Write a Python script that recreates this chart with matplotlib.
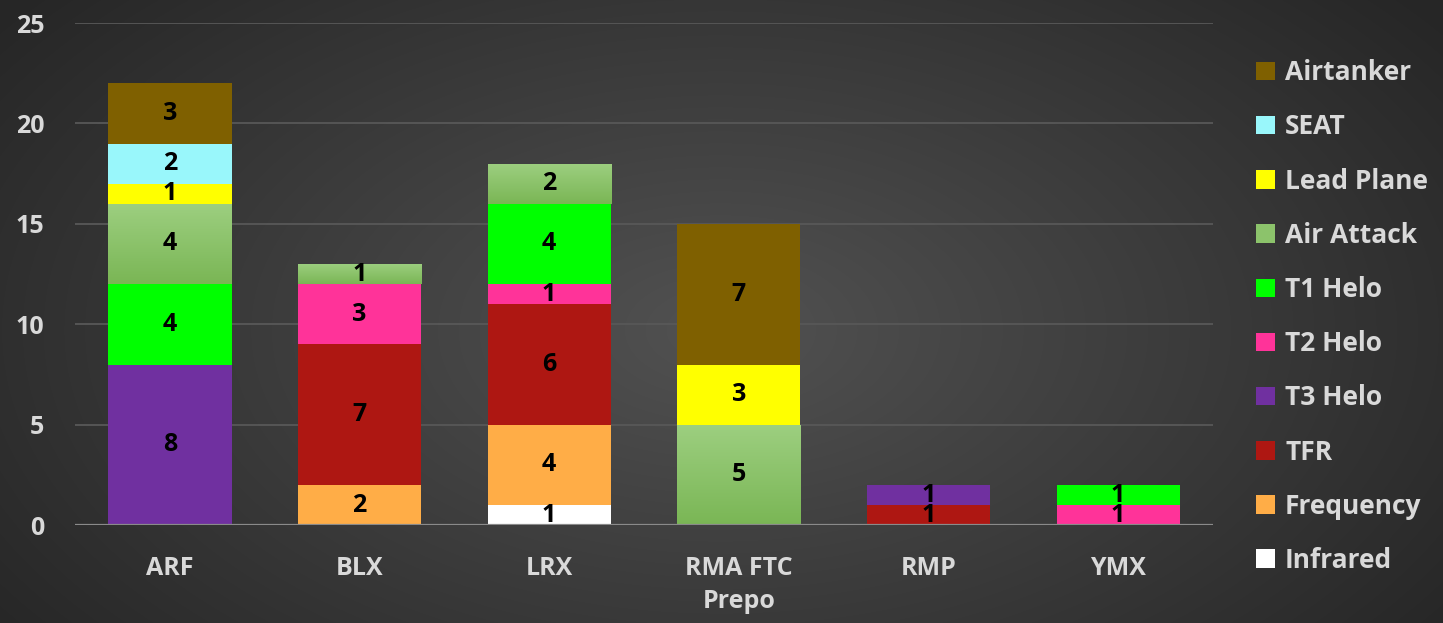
import numpy as np
import matplotlib
matplotlib.use("Agg")
import matplotlib.pyplot as plt
from matplotlib.patches import Patch

categories = ["ARF", "BLX", "LRX", "RMA FTC\nPrepo", "RMP", "YMX"]

# stacked bottom -> top
infrared = [0, 0, 1, 0, 0, 0]
frequency = [0, 2, 4, 0, 0, 0]
tfr = [0, 7, 6, 0, 1, 0]
t3_helo = [8, 0, 0, 0, 1, 0]
t2_helo = [0, 3, 1, 0, 0, 1]
t1_helo = [4, 0, 4, 0, 0, 1]
air_attack = [4, 1, 2, 5, 0, 0]
lead_plane = [1, 0, 0, 3, 0, 0]
seat = [2, 0, 0, 0, 0, 0]
airtanker = [3, 0, 0, 7, 0, 0]

series = [
    ("Infrared", infrared, "#ffffff"),
    ("Frequency", frequency, "#ffad47"),
    ("TFR", tfr, "#ae1712"),
    ("T3 Helo", t3_helo, "#7030a0"),
    ("T2 Helo", t2_helo, "#ff3399"),
    ("T1 Helo", t1_helo, "#00ff00"),
    ("Air Attack", air_attack, "#8cc36b"),
    ("Lead Plane", lead_plane, "#ffff00"),
    ("SEAT", seat, "#99f7fb"),
    ("Airtanker", airtanker, "#7f6000"),
]

plt.rcParams["font.family"] = ["Open Sans", "DejaVu Sans"]
plt.rcParams["font.weight"] = "bold"
text_col = "#d9d9d9"

fig = plt.figure(figsize=(14.43, 6.23), dpi=100)

# radial gradient background
bg = fig.add_axes([0, 0, 1, 1], zorder=-5)
yy, xx = np.mgrid[0:623, 0:1443]
r = np.sqrt(((xx - 720) / 900.0) ** 2 + ((yy - 330) / 520.0) ** 2)
shade = np.clip(0.32 - 0.17 * r, 0.15, 0.32)
bg.imshow(np.dstack([shade] * 3), aspect="auto", extent=[0, 1, 0, 1])
bg.axis("off")

ax = fig.add_axes([0.052, 0.157, 0.7886, 0.806])
ax.set_facecolor("none")
x = np.arange(len(categories))
bottom = np.zeros(len(categories))
width = 0.65
for name, vals, col in series:
    vals = np.array(vals, dtype=float)
    bars = ax.bar(x, vals, width, bottom=bottom, color=col, label=name, zorder=3)
    if name == "Air Attack":
        grad = np.linspace(0, 1, 100).reshape(-1, 1)
        top = np.array([0x9d, 0xcf, 0x80]) / 255
        bot = np.array([0x7a, 0xb6, 0x55]) / 255
        img = top + (bot - top) * grad[..., None]
        for b in bars:
            if b.get_height() > 0:
                im = ax.imshow(img, extent=[b.get_x(), b.get_x() + b.get_width(),
                                            b.get_y(), b.get_y() + b.get_height()],
                               aspect="auto", zorder=3.5)
                im.set_clip_path(b)
    for i, v in enumerate(vals):
        if v > 0:
            ax.text(x[i], bottom[i] + v / 2, f"{int(v)}", ha="center", va="center",
                    fontsize=18, fontweight="bold", color="black", zorder=5)
    bottom += vals

ax.set_xlim(-0.5, len(categories) - 0.5)
ax.set_ylim(0, 25)
ax.set_yticks([0, 5, 10, 15, 20, 25])
ax.yaxis.grid(True, color="#585858", linewidth=1.3, zorder=0)
ax.axhline(0, color="#8a8a8a", linewidth=1.6, zorder=4)
ax.set_xticks(x)
ax.set_xticklabels(categories, fontsize=18, color=text_col, linespacing=1.45)
ax.tick_params(axis="y", labelsize=18, colors=text_col, length=0, pad=22)
ax.tick_params(axis="x", length=0, pad=22)
for s in ax.spines.values():
    s.set_visible(False)

handles = [Patch(facecolor=c, label=n) for n, _, c in series][::-1]
leg = fig.legend(handles=handles, loc="upper left", bbox_to_anchor=(0.854, 0.943),
                 frameon=False, fontsize=19, labelspacing=1.03,
                 handlelength=0.7, handleheight=0.7, handletextpad=0.4)
for t in leg.get_texts():
    t.set_color(text_col)

fig.savefig("out.png", dpi=100)
